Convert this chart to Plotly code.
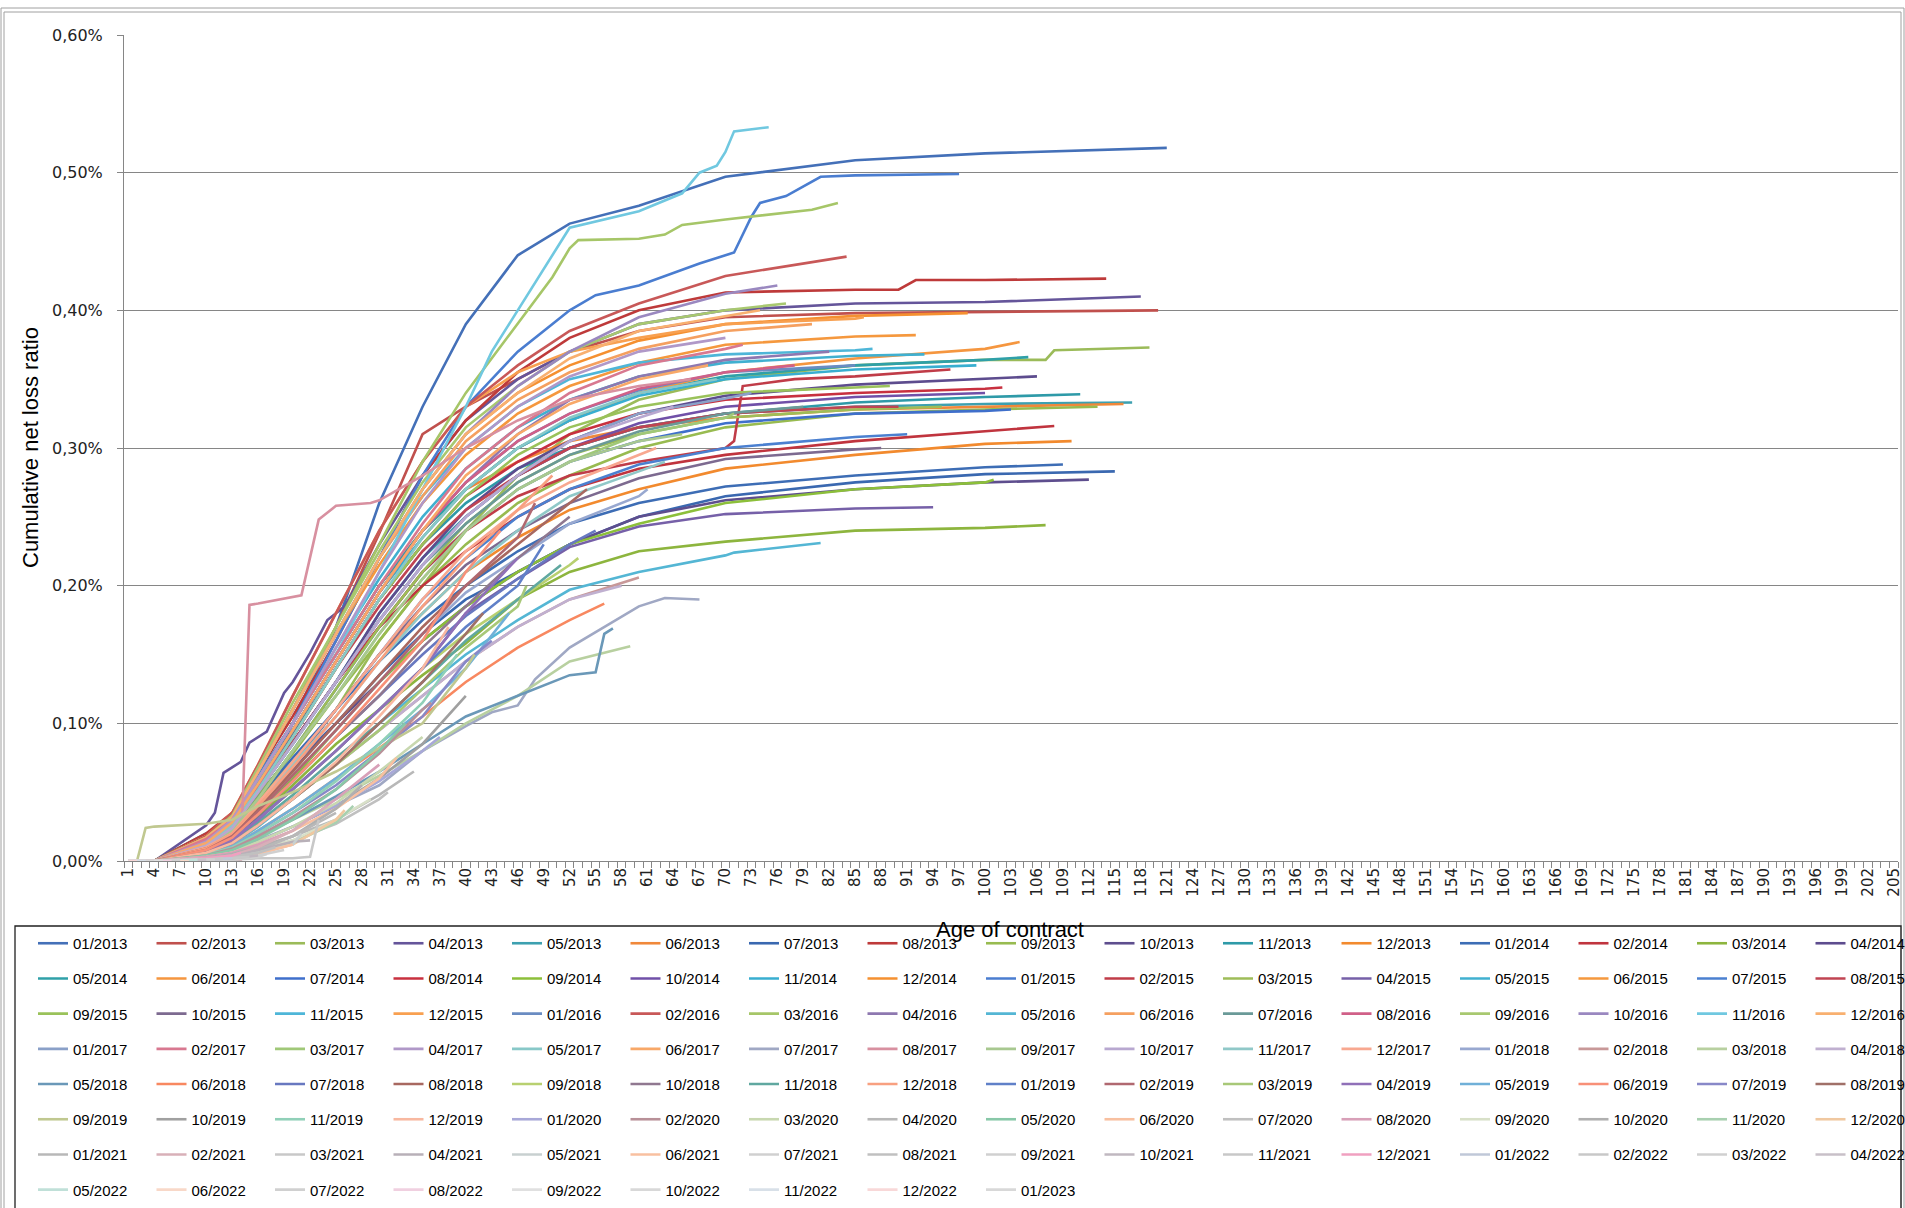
import plotly.graph_objects as go

# ---------------- data (values in %) ----------------
GRID = [1, 4, 10, 13, 16, 20, 25, 30, 35, 40, 46, 52, 60, 70, 85, 100]   # ages of the read points
VINTAGES = [f"{m:02d}/{y}" for y in range(2013, 2023) for m in range(1, 13)] + ["01/2023"]
LAST_AGE = 121   # age reached by the oldest vintage (01/2013) at the 01/2023 cut-off

# each list: values at the GRID ages below the vintage's last age, then the value at its last age
Y2013 = [
    [0, 0, 0.006, 0.012, 0.05, 0.1, 0.17, 0.26, 0.33, 0.39, 0.44, 0.463, 0.476, 0.497, 0.509, 0.514, 0.518],
    [0, 0, 0.018, 0.03, 0.062, 0.11, 0.17, 0.238, 0.31, 0.33, 0.35, 0.37, 0.385, 0.395, 0.398, 0.399, 0.4],
    [0, 0, 0.016, 0.025, 0.045, 0.072, 0.11, 0.16, 0.2, 0.24, 0.28, 0.31, 0.335, 0.35, 0.36, 0.364, 0.373],
    [0, 0, 0.026, 0.068, 0.09, 0.13, 0.18, 0.23, 0.28, 0.32, 0.35, 0.37, 0.39, 0.4, 0.405, 0.406, 0.41],
    [0, 0, 0.02, 0.03, 0.05, 0.085, 0.13, 0.18, 0.22, 0.25, 0.28, 0.3, 0.315, 0.325, 0.33, 0.332, 0.333],
    [0, 0, 0.015, 0.03, 0.06, 0.1, 0.15, 0.2, 0.24, 0.27, 0.29, 0.305, 0.315, 0.322, 0.328, 0.33, 0.332],
    [0, 0, 0.012, 0.022, 0.04, 0.07, 0.1, 0.135, 0.165, 0.19, 0.21, 0.23, 0.25, 0.265, 0.275, 0.281, 0.283],
    [0, 0, 0.02, 0.035, 0.065, 0.105, 0.16, 0.22, 0.28, 0.32, 0.355, 0.38, 0.4, 0.413, 0.415, 0.422, 0.423],
    [0, 0, 0.014, 0.025, 0.048, 0.078, 0.12, 0.16, 0.2, 0.23, 0.26, 0.28, 0.3, 0.315, 0.325, 0.328, 0.33],
    [0, 0, 0.01, 0.022, 0.042, 0.066, 0.1, 0.13, 0.16, 0.185, 0.21, 0.23, 0.25, 0.262, 0.27, 0.275, 0.277],
    [0, 0, 0.018, 0.03, 0.055, 0.092, 0.14, 0.19, 0.23, 0.26, 0.285, 0.3, 0.315, 0.325, 0.333, 0.337, 0.339],
    [0, 0, 0.012, 0.022, 0.042, 0.07, 0.11, 0.15, 0.18, 0.21, 0.235, 0.255, 0.27, 0.285, 0.295, 0.303, 0.305],
]
Y2014 = [
    [0, 0, 0.011, 0.022, 0.046, 0.075, 0.11, 0.145, 0.175, 0.2, 0.225, 0.245, 0.26, 0.272, 0.28, 0.286, 0.288],
    [0, 0, 0.016, 0.028, 0.052, 0.086, 0.13, 0.17, 0.2, 0.225, 0.25, 0.27, 0.285, 0.295, 0.305, 0.312, 0.316],
    [0, 0, 0.008, 0.016, 0.032, 0.055, 0.085, 0.11, 0.135, 0.158, 0.19, 0.21, 0.225, 0.232, 0.24, 0.242, 0.244],
    [0, 0, 0.016, 0.028, 0.052, 0.086, 0.13, 0.18, 0.22, 0.255, 0.285, 0.305, 0.325, 0.338, 0.346, 0.35, 0.352],
    [0, 0, 0.018, 0.032, 0.062, 0.1, 0.15, 0.2, 0.24, 0.27, 0.3, 0.32, 0.34, 0.352, 0.36, 0.364, 0.366],
    [0, 0, 0.017, 0.028, 0.056, 0.095, 0.145, 0.195, 0.235, 0.27, 0.3, 0.32, 0.34, 0.355, 0.365, 0.372, 0.377],
    [0, 0, 0.013, 0.024, 0.046, 0.08, 0.125, 0.17, 0.21, 0.24, 0.27, 0.29, 0.305, 0.318, 0.325, 0.327, 0.328],
    [0, 0, 0.016, 0.028, 0.052, 0.09, 0.14, 0.19, 0.23, 0.265, 0.29, 0.31, 0.325, 0.335, 0.34, 0.343, 0.344],
    [0, 0, 0.01, 0.02, 0.036, 0.06, 0.095, 0.13, 0.16, 0.185, 0.21, 0.23, 0.245, 0.26, 0.27, 0.275, 0.277],
    [0, 0, 0.015, 0.027, 0.052, 0.086, 0.13, 0.175, 0.215, 0.25, 0.28, 0.3, 0.318, 0.33, 0.337, 0.34],
    [0, 0, 0.017, 0.03, 0.057, 0.095, 0.145, 0.195, 0.235, 0.27, 0.3, 0.32, 0.338, 0.35, 0.357, 0.36],
    [0, 0, 0.018, 0.033, 0.066, 0.11, 0.165, 0.22, 0.27, 0.31, 0.34, 0.36, 0.378, 0.39, 0.396, 0.398],
]
Y2015 = [
    [0, 0, 0.017, 0.032, 0.062, 0.1, 0.16, 0.22, 0.28, 0.33, 0.37, 0.4, 0.418, 0.44, 0.498, 0.499],
    [0, 0, 0.015, 0.027, 0.052, 0.086, 0.13, 0.17, 0.21, 0.24, 0.265, 0.28, 0.29, 0.3, 0.352, 0.357],
    [0, 0, 0.012, 0.023, 0.046, 0.08, 0.125, 0.17, 0.21, 0.245, 0.275, 0.295, 0.31, 0.322, 0.328, 0.33],
    [0, 0, 0.008, 0.016, 0.031, 0.052, 0.08, 0.11, 0.14, 0.18, 0.205, 0.228, 0.243, 0.252, 0.256, 0.257],
    [0, 0, 0.016, 0.03, 0.06, 0.1, 0.155, 0.205, 0.25, 0.285, 0.315, 0.335, 0.352, 0.362, 0.367, 0.368],
    [0, 0, 0.017, 0.031, 0.065, 0.11, 0.165, 0.215, 0.26, 0.295, 0.325, 0.345, 0.362, 0.375, 0.381, 0.382],
    [0, 0, 0.012, 0.021, 0.041, 0.07, 0.11, 0.15, 0.19, 0.22, 0.25, 0.27, 0.288, 0.3, 0.308, 0.31],
    [0, 0, 0.014, 0.026, 0.05, 0.09, 0.14, 0.185, 0.225, 0.255, 0.28, 0.3, 0.315, 0.325, 0.33, 0.33],
    [0, 0, 0.014, 0.026, 0.051, 0.09, 0.14, 0.19, 0.23, 0.265, 0.295, 0.315, 0.33, 0.34, 0.344, 0.345],
    [0, 0, 0.011, 0.021, 0.04, 0.07, 0.11, 0.15, 0.185, 0.215, 0.24, 0.26, 0.278, 0.292, 0.299, 0.3],
    [0, 0, 0.017, 0.031, 0.065, 0.11, 0.165, 0.22, 0.265, 0.3, 0.33, 0.35, 0.362, 0.368, 0.371, 0.372],
    [0, 0, 0.018, 0.035, 0.07, 0.12, 0.18, 0.24, 0.29, 0.33, 0.355, 0.37, 0.38, 0.39, 0.394, 0.395],
]
Y2016 = [
    [0, 0, 0.015, 0.028, 0.055, 0.095, 0.145, 0.195, 0.24, 0.275, 0.305, 0.325, 0.342, 0.355, 0.36],
    [0, 0, 0.018, 0.035, 0.07, 0.12, 0.18, 0.24, 0.29, 0.33, 0.36, 0.385, 0.405, 0.425, 0.439],
    [0, 0, 0.017, 0.03, 0.065, 0.11, 0.17, 0.23, 0.29, 0.34, 0.39, 0.445, 0.452, 0.466, 0.478],
    [0, 0, 0.015, 0.028, 0.055, 0.095, 0.145, 0.195, 0.24, 0.275, 0.31, 0.335, 0.352, 0.364, 0.37],
    [0, 0, 0.007, 0.012, 0.025, 0.045, 0.07, 0.1, 0.125, 0.15, 0.175, 0.197, 0.21, 0.222, 0.231],
    [0, 0, 0.017, 0.032, 0.065, 0.11, 0.165, 0.22, 0.265, 0.305, 0.335, 0.355, 0.372, 0.385, 0.39],
    [0, 0, 0.014, 0.025, 0.05, 0.085, 0.13, 0.175, 0.215, 0.245, 0.275, 0.295, 0.312, 0.325, 0.33],
    [0, 0, 0.015, 0.028, 0.055, 0.095, 0.145, 0.195, 0.24, 0.275, 0.305, 0.325, 0.343, 0.355, 0.36],
    [0, 0, 0.017, 0.033, 0.068, 0.115, 0.17, 0.225, 0.275, 0.315, 0.345, 0.37, 0.39, 0.4, 0.405],
    [0, 0, 0.016, 0.03, 0.065, 0.11, 0.165, 0.22, 0.27, 0.31, 0.345, 0.37, 0.395, 0.412, 0.418],
    [0, 0, 0.016, 0.03, 0.06, 0.1, 0.15, 0.21, 0.27, 0.33, 0.4, 0.46, 0.472, 0.515, 0.533],
    [0, 0, 0.017, 0.032, 0.065, 0.11, 0.165, 0.22, 0.27, 0.31, 0.34, 0.365, 0.385, 0.396, 0.4],
]
Y2017 = [
    [0, 0, 0.014, 0.025, 0.05, 0.085, 0.13, 0.175, 0.215, 0.25, 0.28, 0.305, 0.325, 0.336, 0.34],
    [0, 0, 0.016, 0.03, 0.06, 0.1, 0.15, 0.2, 0.245, 0.285, 0.315, 0.34, 0.36, 0.372, 0.375],
    [0, 0, 0.012, 0.022, 0.045, 0.08, 0.12, 0.165, 0.205, 0.24, 0.27, 0.29, 0.31, 0.322, 0.325],
    [0, 0, 0.014, 0.03, 0.06, 0.1, 0.155, 0.21, 0.26, 0.3, 0.33, 0.352, 0.37, 0.38],
    [0, 0, 0.012, 0.026, 0.052, 0.09, 0.14, 0.19, 0.235, 0.27, 0.3, 0.322, 0.34, 0.35],
    [0, 0, 0.013, 0.028, 0.056, 0.095, 0.145, 0.195, 0.24, 0.28, 0.31, 0.332, 0.35, 0.36],
    [0, 0, 0.003, 0.008, 0.015, 0.025, 0.04, 0.055, 0.08, 0.098, 0.113, 0.155, 0.185, 0.19],
    [0, 0, 0, 0, 0.187, 0.192, 0.258, 0.262, 0.28, 0.3, 0.32, 0.335, 0.345, 0.35],
    [0, 0, 0.01, 0.022, 0.045, 0.08, 0.12, 0.165, 0.205, 0.24, 0.27, 0.29, 0.305, 0.31],
    [0, 0, 0.011, 0.024, 0.05, 0.085, 0.13, 0.175, 0.215, 0.25, 0.28, 0.305, 0.322, 0.33],
    [0, 0, 0.009, 0.02, 0.04, 0.07, 0.105, 0.145, 0.18, 0.21, 0.24, 0.265, 0.283, 0.29],
    [0, 0, 0.01, 0.02, 0.042, 0.072, 0.11, 0.15, 0.19, 0.225, 0.255, 0.275, 0.295, 0.3],
]
Y2018 = [
    [0, 0, 0.008, 0.018, 0.036, 0.062, 0.095, 0.13, 0.165, 0.195, 0.22, 0.245, 0.265, 0.27],
    [0, 0, 0.006, 0.013, 0.026, 0.045, 0.07, 0.095, 0.12, 0.145, 0.17, 0.19, 0.206],
    [0, 0, 0.004, 0.009, 0.018, 0.03, 0.045, 0.062, 0.08, 0.1, 0.12, 0.145, 0.156],
    [0, 0, 0.006, 0.013, 0.026, 0.045, 0.07, 0.095, 0.12, 0.145, 0.17, 0.19, 0.2],
    [0, 0, 0.004, 0.009, 0.018, 0.03, 0.047, 0.065, 0.085, 0.105, 0.12, 0.135, 0.169],
    [0, 0, 0.005, 0.011, 0.022, 0.038, 0.06, 0.082, 0.105, 0.13, 0.155, 0.175, 0.187],
    [0, 0, 0.008, 0.017, 0.034, 0.058, 0.09, 0.12, 0.15, 0.178, 0.205, 0.23, 0.24],
    [0, 0, 0.009, 0.019, 0.038, 0.065, 0.1, 0.135, 0.17, 0.2, 0.23, 0.26, 0.27],
    [0, 0, 0.007, 0.015, 0.03, 0.052, 0.08, 0.11, 0.14, 0.165, 0.19, 0.215, 0.22],
    [0, 0, 0.008, 0.017, 0.034, 0.058, 0.09, 0.12, 0.155, 0.185, 0.22, 0.25],
    [0, 0, 0.006, 0.014, 0.028, 0.048, 0.075, 0.1, 0.13, 0.16, 0.19, 0.215],
    [0, 0, 0.009, 0.02, 0.04, 0.068, 0.105, 0.145, 0.185, 0.22, 0.255, 0.28],
]
Y2019 = [
    [0, 0, 0.007, 0.015, 0.03, 0.052, 0.08, 0.11, 0.14, 0.17, 0.2, 0.23],
    [0, 0, 0.008, 0.018, 0.036, 0.062, 0.095, 0.13, 0.165, 0.2, 0.235, 0.26],
    [0, 0, 0.006, 0.013, 0.026, 0.045, 0.07, 0.095, 0.125, 0.155, 0.185, 0.2],
    [0, 0, 0.007, 0.015, 0.03, 0.052, 0.08, 0.11, 0.14, 0.18, 0.22],
    [0, 0, 0.005, 0.011, 0.022, 0.038, 0.06, 0.085, 0.11, 0.14, 0.18],
    [0, 0, 0.008, 0.017, 0.034, 0.058, 0.09, 0.125, 0.16, 0.21, 0.24],
    [0, 0, 0.005, 0.01, 0.02, 0.035, 0.055, 0.08, 0.105, 0.145, 0.16],
    [0, 0, 0.006, 0.013, 0.026, 0.045, 0.07, 0.1, 0.13, 0.165, 0.18],
    [0, 0.025, 0.027, 0.03, 0.04, 0.05, 0.065, 0.082, 0.1, 0.14, 0.15],
    [0, 0, 0.003, 0.007, 0.014, 0.025, 0.04, 0.06, 0.085, 0.12],
    [0, 0, 0.005, 0.01, 0.02, 0.035, 0.058, 0.085, 0.115, 0.15],
    [0, 0, 0.006, 0.013, 0.026, 0.045, 0.072, 0.105, 0.14, 0.17],
]
Y2020 = [
    [0, 0, 0.003, 0.007, 0.014, 0.025, 0.04, 0.058, 0.08, 0.09],
    [0, 0, 0.004, 0.009, 0.018, 0.032, 0.052, 0.078, 0.11, 0.115],
    [0, 0, 0.003, 0.007, 0.014, 0.025, 0.042, 0.065, 0.09],
    [0, 0, 0.002, 0.005, 0.01, 0.018, 0.03, 0.048, 0.065],
    [0, 0, 0.004, 0.008, 0.016, 0.03, 0.052, 0.08, 0.1],
    [0, 0, 0.003, 0.006, 0.012, 0.022, 0.038, 0.06, 0.075],
    [0, 0, 0.002, 0.004, 0.008, 0.015, 0.027, 0.045, 0.05],
    [0, 0, 0.003, 0.006, 0.012, 0.022, 0.045, 0.07],
    [0, 0, 0.002, 0.004, 0.008, 0.015, 0.03, 0.045],
    [0, 0, 0.002, 0.005, 0.01, 0.018, 0.038, 0.055],
    [0, 0, 0.001, 0.003, 0.007, 0.013, 0.028, 0.04],
    [0, 0, 0.001, 0.003, 0.006, 0.012, 0.03, 0.037],
]
Y2021 = [
    [0, 0, 0.001, 0.003, 0.008, 0.018, 0.035],
    [0, 0, 0.002, 0.004, 0.01, 0.022, 0.04],
    [0, 0, 0, 0.001, 0.002, 0.002, 0.03],
    [0, 0, 0.001, 0.003, 0.008, 0.014, 0.015],
    [0, 0, 0.001, 0.002, 0.006, 0.012, 0.02],
    [0, 0, 0.001, 0.002, 0.005, 0.012],
    [0, 0, 0.001, 0.002, 0.004, 0.008],
    [0, 0, 0.001, 0.003, 0.006, 0.01],
    [0, 0, 0, 0.001, 0.003, 0.005],
    [0, 0, 0.001, 0.002, 0.004],
    [0, 0, 0.001, 0.002, 0.003],
    [0, 0, 0.002, 0.004, 0.006],
]
Y2022 = [
    [0, 0, 0.001, 0.002],
    [0, 0, 0.001, 0.002],
    [0, 0, 0.001, 0.001],
    [0, 0, 0.001],
    [0, 0, 0.001],
    [0, 0, 0],
    [0, 0, 0.001],
    [0, 0, 0],
    [0, 0, 0],
    [0, 0],
    [0, 0],
    [0, 0],
]
Y2023 = [
    [0],
]

# extra read points (age, value) where a curve jumps between grid ages
EXTRA = {
    "04/2013": [(11, 0.035), (12, 0.064), (14, 0.072), (15, 0.086), (17, 0.094), (19, 0.122),
                (22, 0.151), (24, 0.175), (26, 0.185)],
    "03/2013": [(107, 0.364), (108, 0.371)],
    "08/2013": [(90, 0.415), (92, 0.422)],
    "01/2015": [(55, 0.411), (64, 0.427), (67, 0.434), (71, 0.442), (73, 0.468), (74, 0.478),
                (77, 0.483), (81, 0.497)],
    "02/2015": [(71, 0.305), (72, 0.345), (78, 0.35)],
    "03/2016": [(50, 0.424), (53, 0.451), (63, 0.455), (65, 0.462), (80, 0.473)],
    "05/2016": [(71, 0.224)],
    "11/2016": [(43, 0.37), (49, 0.43), (65, 0.485), (67, 0.5), (69, 0.505), (71, 0.53)],
    "07/2017": [(43, 0.108), (48, 0.132), (63, 0.191)],
    "08/2017": [(14, 0.001), (15, 0.186), (21, 0.193), (23, 0.248), (29, 0.26)],
    "05/2018": [(55, 0.137), (56, 0.165)],
    "09/2019": [(2, 0.0), (3, 0.024)],
    "03/2021": [(22, 0.003)],
}

COLORS = [
    "#4470B8", "#C0504D", "#9BBB59", "#65559A", "#3DA0B0", "#F0883A", "#3A68B0", "#BE3A3A",
    "#98BB50", "#5E4E8E", "#2E9AA8", "#F28A2E", "#3D6DB5", "#C0343E", "#8DB53E", "#5D4C8E",
    "#2FA0A8", "#F5963F", "#3F6FCB", "#C8303F", "#8CBF3A", "#7050A8", "#38AED0", "#F59030",
    "#4A7DD0", "#C03C48", "#9EBD58", "#7660A8", "#40B0D0", "#F5983E", "#4B80D0", "#C04452",
    "#9AC25A", "#7D6A90", "#4EB6D8", "#F8A050", "#6A8CC2", "#C85858", "#A6C668", "#8E78B0",
    "#54B6D4", "#F5A060", "#6A9A98", "#D06088", "#A8C870", "#9A88C0", "#70C8E0", "#F8B070",
    "#8AA0C8", "#D87890", "#A0C878", "#B098C8", "#88C8C8", "#F8A868", "#A0A8C4", "#D890A0",
    "#A8C890", "#B8A8D0", "#90C8C8", "#F8A890", "#98A8D0", "#C89898", "#B8D0A0", "#C0B0D0",
    "#6A98B8", "#F88860", "#6878C0", "#A86860", "#B8D070", "#907890", "#60A8A0", "#F8A080",
    "#6080C8", "#B06870", "#A8C878", "#9070B8", "#70B0D8", "#F89078", "#8888C8", "#A07068",
    "#C0C890", "#A0A0A0", "#90D0B8", "#F8B8A0", "#A8A8D8", "#B89098", "#C8D8B0", "#B8B8B8",
    "#88C8A8", "#F8C0A0", "#C0C0C0", "#D8A0B8", "#D8E0C8", "#B0B0B0", "#A8D0B0", "#F0C8A0",
    "#B8B8B8", "#D8B0B8", "#C8C8C8", "#B8B0B8", "#C8D0D0", "#F8C0A0", "#D0D0D0", "#C0C0C0",
    "#D0D0D0", "#C0B8C0", "#C8C8C8", "#F0A0C0", "#C0C8D8", "#C8C8C8", "#D0D0D0", "#C8C0C8",
    "#C0E0D8", "#F8D8C8", "#D0D0D0", "#F0D0E0", "#E0E0E0", "#D8D8D8", "#D8E0E8", "#F8D8D8",
    "#D8D8D8",
]

Y_TICKS = [0, 0.1, 0.2, 0.3, 0.4, 0.5, 0.6]
Y_TICKTEXT = ["0,00%", "0,10%", "0,20%", "0,30%", "0,40%", "0,50%", "0,60%"]

# ---------------- layout geometry ----------------
W, H = 1905, 1208
ML, MR, MT, MB = 124, 7, 35, 347
PW, PH = W - ML - MR, H - MT - MB


def px(x):
    return (x - ML) / PW


def py(y):
    return (H - MB - y) / PH


CURVES = Y2013 + Y2014 + Y2015 + Y2016 + Y2017 + Y2018 + Y2019 + Y2020 + Y2021 + Y2022 + Y2023
PER_ROW = 16

fig = go.Figure()
for k, (name, vals, col) in enumerate(zip(VINTAGES, CURVES, COLORS)):
    end = LAST_AGE - k
    knots = [g for g in GRID if g < end]
    body = vals[:-1]
    n = min(len(knots), len(body))
    pts = dict(zip(knots[:n], body[:n]))
    pts[end] = vals[-1]
    for a, v in EXTRA.get(name, []):
        pts[a] = v
    xs = sorted(pts)
    ys = [pts[a] for a in xs]
    row = k // PER_ROW
    fig.add_trace(go.Scatter(
        x=xs, y=ys, mode="lines", name=name,
        line=dict(color=col, width=2.6),
        legend="legend" if row == 0 else f"legend{row + 1}",
    ))

legends = {}
for r in range(8):
    center = 943 + 35.2 * r
    key = "legend" if r == 0 else f"legend{r + 1}"
    legends[key] = dict(
        orientation="h", x=px(33), xanchor="left", y=py(center - 16), yanchor="top",
        entrywidth=73.5, entrywidthmode="pixels", itemwidth=30,
        font=dict(family="Liberation Sans", size=15, color="#000000"),
        bgcolor="rgba(0,0,0,0)", borderwidth=0, traceorder="normal",
    )

fig.update_layout(
    width=W, height=H,
    margin=dict(l=ML, r=MR, t=MT, b=MB, autoexpand=False),
    paper_bgcolor="white", plot_bgcolor="white",
    font=dict(family="Liberation Sans", color="#000000"),
    xaxis=dict(
        range=[0.5, 205.5], tickmode="linear", tick0=1, dtick=3, tickangle=-90,
        ticks="", showgrid=False, zeroline=False, showline=True, linecolor="#868686",
        tickfont=dict(family="DejaVu Sans", size=15, color="#222222"),
        minor=dict(tickmode="linear", tick0=0.5, dtick=1, ticks="outside", ticklen=6,
                   tickcolor="#868686", showgrid=False),
    ),
    yaxis=dict(
        range=[0, 0.6], tickmode="array", tickvals=Y_TICKS, ticktext=Y_TICKTEXT,
        showgrid=True, gridcolor="#868686", gridwidth=1, zeroline=False,
        showline=True, linecolor="#868686", ticks="outside", ticklen=6, tickcolor="#868686",
        ticklabelstandoff=11,
        tickfont=dict(family="DejaVu Sans", size=16, color="#222222"),
    ),
    annotations=[
        dict(text="Cumulative net loss ratio", x=px(30), y=0.5, xref="paper", yref="paper",
             textangle=-90, showarrow=False, xanchor="center", yanchor="middle",
             font=dict(family="Liberation Sans", size=22, color="#000000")),
        dict(text="Age of contract", x=px(1010), y=py(929), xref="paper", yref="paper",
             showarrow=False, xanchor="center", yanchor="middle",
             font=dict(family="Liberation Sans", size=22, color="#000000")),
    ],
    shapes=[
        dict(type="rect", xref="paper", yref="paper", x0=px(1), x1=px(1904), y0=py(8), y1=py(1212),
             line=dict(color="#A0A0A0", width=1)),
        dict(type="rect", xref="paper", yref="paper", x0=px(4), x1=px(1901), y0=py(12), y1=py(1212),
             line=dict(color="#A0A0A0", width=1)),
        dict(type="rect", xref="paper", yref="paper", x0=px(15), x1=px(1901), y0=py(926), y1=py(1212),
             line=dict(color="#202020", width=1.3)),
    ],
    **legends,
)

# remove the page's default body margin so the 1905x1208 figure fills the window exactly
fig.write_html(
    "out.html",
    config={"displayModeBar": False},
    post_script="document.body.style.margin='0';document.body.style.overflow='hidden';",
)
